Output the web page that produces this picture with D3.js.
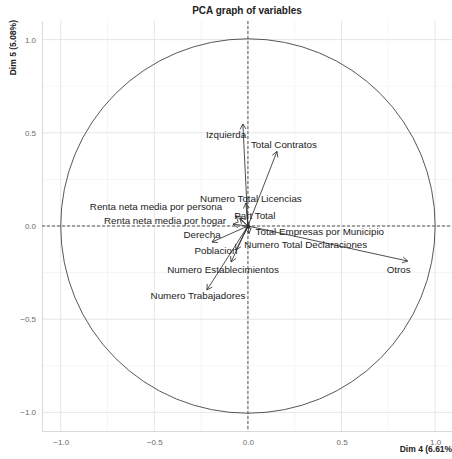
<!DOCTYPE html>
<html>
<head>
<meta charset="utf-8">
<script src="https://cdn.jsdelivr.net/npm/d3@7/dist/d3.min.js"></script>
<style>
  body { margin: 0; background: #fff; }
  svg { font-family: "Liberation Sans", Arial, sans-serif; }
</style>
</head>
<body>
<svg id="chart" width="452" height="459"></svg>
<script>
// variable names and their coordinates on Dim 4 / Dim 5
const variables = [
  "Otros", "Izquierda", "Total Contratos", "Numero Total Licencias", "Part Total",
  "Renta neta media por persona", "Renta neta media por hogar", "Derecha", "Poblacion",
  "Numero Establecimientos", "Numero Trabajadores", "Total Empresas por Municipio",
  "Numero Total Declaraciones"
];
const dim4 = [0.853, -0.027, 0.155, -0.011, -0.043, -0.064, -0.08, -0.192, -0.064, -0.09, -0.219, 0.012, 0.006];
const dim5 = [-0.188, 0.547, 0.40, 0.123, 0.043, 0.054, 0.01, -0.086, -0.129, -0.193, -0.343, -0.012, -0.04];
// where the (repelled) labels ended up
const labelX = [0.805, -0.117, 0.192, 0.016, 0.037, -0.491, -0.443, -0.245, -0.171, -0.133, -0.267, 0.384, 0.309];
const labelY = [-0.236, 0.493, 0.44, 0.145, 0.059, 0.107, 0.027, -0.048, -0.134, -0.236, -0.375, -0.027, -0.097];

const majorTicks = [-1.0, -0.5, 0.0, 0.5, 1.0];
const minorTicks = [-0.75, -0.25, 0.25, 0.75];

let svg = d3.select("#chart");
let xScale = d3.scaleLinear().domain([-1.1, 1.09]).range([42, 452]);
let yScale = d3.scaleLinear().domain([-1.1, 1.1]).range([431, 21]);

// grid
let grid = svg.append("g");
minorTicks.forEach(t => {
  grid.append("line").attr("x1", xScale(t)).attr("x2", xScale(t)).attr("y1", 21).attr("y2", 431)
    .attr("stroke", "#f0f0f0").attr("stroke-width", 0.6);
  grid.append("line").attr("y1", yScale(t)).attr("y2", yScale(t)).attr("x1", 42).attr("x2", 452)
    .attr("stroke", "#f0f0f0").attr("stroke-width", 0.6);
});
majorTicks.forEach(t => {
  grid.append("line").attr("x1", xScale(t)).attr("x2", xScale(t)).attr("y1", 21).attr("y2", 431)
    .attr("stroke", "#e6e6e6").attr("stroke-width", 1);
  grid.append("line").attr("y1", yScale(t)).attr("y2", yScale(t)).attr("x1", 42).attr("x2", 452)
    .attr("stroke", "#e6e6e6").attr("stroke-width", 1);
});

// axes
let xAxis = d3.axisBottom(xScale).tickValues(majorTicks).tickFormat(d3.format(".1f")).tickSize(0).tickPadding(8);
let yAxis = d3.axisLeft(yScale).tickValues(majorTicks).tickFormat(d3.format(".1f")).tickSize(0).tickPadding(6);
svg.append("g").attr("transform", "translate(0,431)").call(xAxis)
  .call(g => g.select(".domain").attr("stroke", "#d9d9d9"))
  .selectAll("text").attr("fill", "#6b6b6b").attr("font-size", 8);
svg.append("g").attr("transform", "translate(42,0)").call(yAxis)
  .call(g => g.select(".domain").attr("stroke", "#d9d9d9"))
  .selectAll("text").attr("fill", "#6b6b6b").attr("font-size", 8);

// correlation circle
svg.append("circle")
  .attr("cx", xScale(0)).attr("cy", yScale(0))
  .attr("r", xScale(1) - xScale(0))
  .attr("fill", "none").attr("stroke", "#444").attr("stroke-width", 0.9);

// dashed origin lines
svg.append("line").attr("x1", 42).attr("x2", 452).attr("y1", yScale(0)).attr("y2", yScale(0))
  .attr("stroke", "#555").attr("stroke-dasharray", "3,2").attr("stroke-width", 1);
svg.append("line").attr("x1", xScale(0)).attr("x2", xScale(0)).attr("y1", 21).attr("y2", 431)
  .attr("stroke", "#555").attr("stroke-dasharray", "3,2").attr("stroke-width", 1);

// arrows
let arrows = svg.append("g").attr("stroke", "#222").attr("stroke-width", 0.8).attr("fill", "none");
variables.forEach((v, i) => {
  let x0 = xScale(0), y0 = yScale(0);
  let x1 = xScale(dim4[i]), y1 = yScale(dim5[i]);
  arrows.append("line").attr("x1", x0).attr("y1", y0).attr("x2", x1).attr("y2", y1);
  let a = Math.atan2(y1 - y0, x1 - x0);
  let len = 6, spread = Math.PI / 6;
  let head = d3.path();
  head.moveTo(x1 - len * Math.cos(a - spread), y1 - len * Math.sin(a - spread));
  head.lineTo(x1, y1);
  head.lineTo(x1 - len * Math.cos(a + spread), y1 - len * Math.sin(a + spread));
  arrows.append("path").attr("d", head.toString());
});

// labels
svg.append("g").selectAll("text")
  .data(variables)
  .join("text")
  .attr("x", (d, i) => xScale(labelX[i]))
  .attr("y", (d, i) => yScale(labelY[i]))
  .attr("text-anchor", "middle")
  .attr("dominant-baseline", "central")
  .attr("font-size", 9.8)
  .attr("fill", "#222")
  .text(d => d);

// titles
svg.append("text").attr("x", 247).attr("y", 14).attr("text-anchor", "middle")
  .attr("font-size", 10).attr("font-weight", "bold").attr("fill", "#222")
  .text("PCA graph of variables");
svg.append("text").attr("x", 455).attr("y", 452).attr("text-anchor", "end")
  .attr("font-size", 8.5).attr("font-weight", "bold").attr("fill", "#222")
  .text("Dim 4 (6.61%)");
svg.append("text").attr("transform", "translate(16,20) rotate(-90)").attr("text-anchor", "end")
  .attr("font-size", 8.5).attr("font-weight", "bold").attr("fill", "#222")
  .text("Dim 5 (5.08%)");
</script>
</body>
</html>
